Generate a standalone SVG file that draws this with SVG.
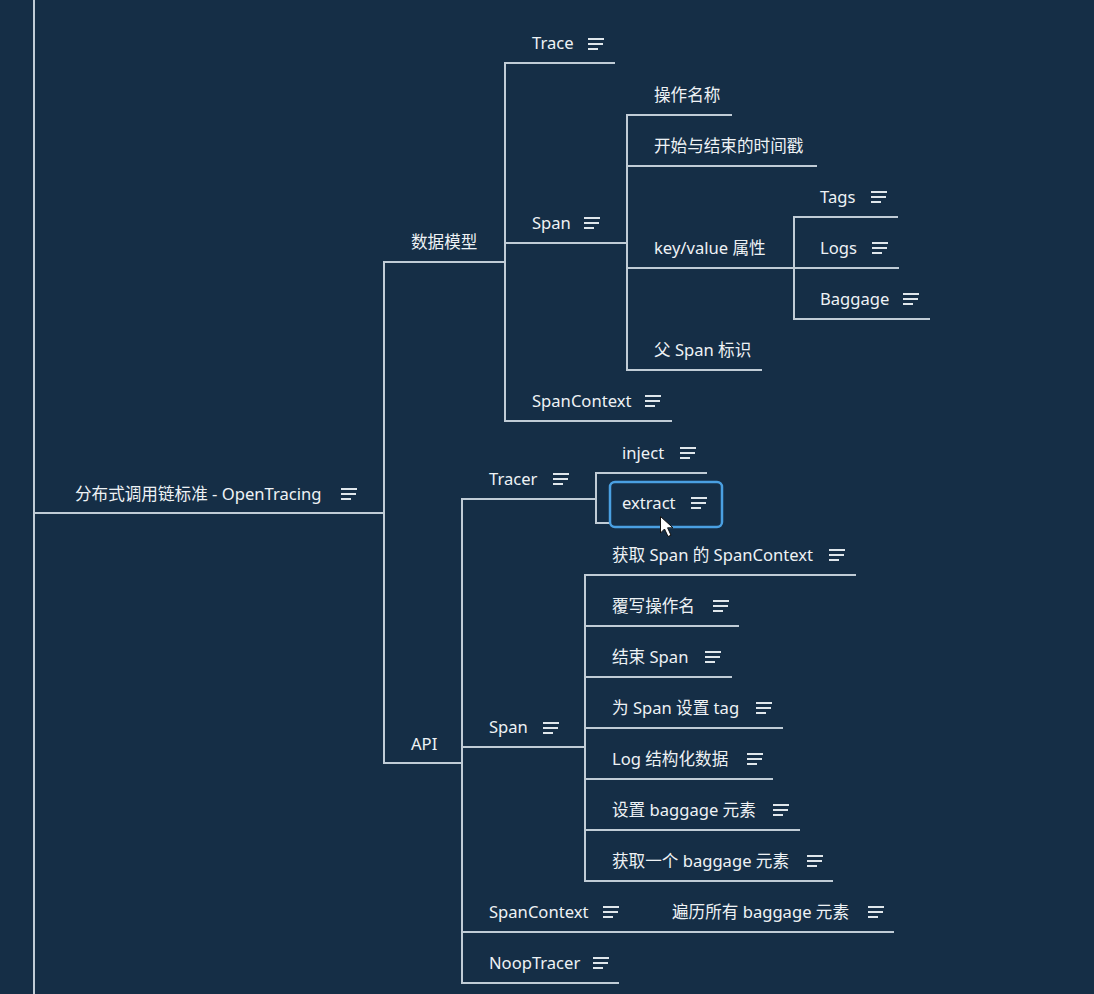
<svg xmlns="http://www.w3.org/2000/svg" width="1094" height="994" viewBox="0 0 1094 994">
<defs>
<style>
.bg{fill:#152e46}
.ln{fill:none;stroke:#c0ccd6;stroke-width:2}
.t{font-family:"Noto Sans","Noto Sans CJK SC",sans-serif;font-size:16.6px;fill:#eef2f5}
.ic{stroke:#dfe6eb;stroke-width:2;fill:none}
.sel{fill:#152e46;stroke:#4aa0e2;stroke-width:2.5}
</style>
<g id="note">
<line class="ic" x1="0" y1="-5" x2="16" y2="-5"/>
<line class="ic" x1="0" y1="0" x2="15" y2="0"/>
<line class="ic" x1="0" y1="5" x2="10" y2="5"/>
</g>
</defs>
<rect class="bg" x="0" y="0" width="1094" height="994"/>
<g id="connectors">
<line class="ln" x1="34" y1="0" x2="34" y2="994"/>
<line class="ln" x1="34" y1="513" x2="384" y2="513"/>
<line class="ln" x1="384" y1="262" x2="384" y2="763"/>
<line class="ln" x1="383" y1="262" x2="505" y2="262"/>
<line class="ln" x1="383" y1="763" x2="462" y2="763"/>
<line class="ln" x1="505" y1="62" x2="505" y2="422"/>
<line class="ln" x1="504" y1="63" x2="615" y2="63"/>
<line class="ln" x1="504" y1="243" x2="627" y2="243"/>
<line class="ln" x1="504" y1="421" x2="672" y2="421"/>
<line class="ln" x1="627" y1="114" x2="627" y2="371"/>
<line class="ln" x1="626" y1="115" x2="732" y2="115"/>
<line class="ln" x1="626" y1="166" x2="817" y2="166"/>
<line class="ln" x1="626" y1="268" x2="794" y2="268"/>
<line class="ln" x1="626" y1="370" x2="762" y2="370"/>
<line class="ln" x1="794" y1="216" x2="794" y2="320"/>
<line class="ln" x1="793" y1="217" x2="898" y2="217"/>
<line class="ln" x1="793" y1="268" x2="899" y2="268"/>
<line class="ln" x1="793" y1="319" x2="930" y2="319"/>
<line class="ln" x1="462" y1="498" x2="462" y2="984"/>
<line class="ln" x1="461" y1="499" x2="596" y2="499"/>
<line class="ln" x1="461" y1="747" x2="585" y2="747"/>
<line class="ln" x1="461" y1="932" x2="894" y2="932"/>
<line class="ln" x1="461" y1="983" x2="619" y2="983"/>
<line class="ln" x1="596" y1="472" x2="596" y2="524"/>
<line class="ln" x1="595" y1="473" x2="707" y2="473"/>
<line class="ln" x1="595" y1="523" x2="717" y2="523"/>
<line class="ln" x1="585" y1="574" x2="585" y2="882"/>
<line class="ln" x1="584" y1="575" x2="856" y2="575"/>
<line class="ln" x1="584" y1="626" x2="739" y2="626"/>
<line class="ln" x1="584" y1="677" x2="732" y2="677"/>
<line class="ln" x1="584" y1="728" x2="783" y2="728"/>
<line class="ln" x1="584" y1="779" x2="773" y2="779"/>
<line class="ln" x1="584" y1="830" x2="800" y2="830"/>
<line class="ln" x1="584" y1="881" x2="833" y2="881"/>
</g>
<g id="root"><text class="t" x="75" y="500">分布式调用链标准 - OpenTracing</text><use href="#note" x="341" y="494"/></g>
<g id="datamodel"><text class="t" x="411" y="248">数据模型</text></g>
<g id="api"><text class="t" x="411" y="750">API</text></g>
<g id="trace"><text class="t" x="532" y="49">Trace</text><use href="#note" x="588" y="44"/></g>
<g id="span-dm"><text class="t" x="532" y="229">Span</text><use href="#note" x="584" y="223"/></g>
<g id="spancontext-dm"><text class="t" x="532" y="407">SpanContext</text><use href="#note" x="645" y="401"/></g>
<g id="opname"><text class="t" x="654" y="101">操作名称</text></g>
<g id="timestamps"><text class="t" x="654" y="152">开始与结束的时间戳</text></g>
<g id="kv"><text class="t" x="654" y="254">key/value 属性</text></g>
<g id="parent"><text class="t" x="654" y="356">父 Span 标识</text></g>
<g id="tags"><text class="t" x="820" y="203">Tags</text><use href="#note" x="871" y="197"/></g>
<g id="logs"><text class="t" x="820" y="254">Logs</text><use href="#note" x="872" y="248"/></g>
<g id="baggage"><text class="t" x="820" y="305">Baggage</text><use href="#note" x="903" y="299"/></g>
<g id="tracer"><text class="t" x="489" y="485">Tracer</text><use href="#note" x="553" y="479"/></g>
<g id="inject"><text class="t" x="622" y="459">inject</text><use href="#note" x="680" y="453"/></g>
<g id="extract"><rect class="sel" x="610" y="482" width="112" height="45" rx="5"/><text class="t" x="622" y="509">extract</text><use href="#note" x="691" y="503"/></g>
<g id="span-api"><text class="t" x="489" y="733">Span</text><use href="#note" x="543" y="728"/></g>
<g id="spancontext-api"><text class="t" x="489" y="918">SpanContext</text><use href="#note" x="603" y="912"/></g>
<g id="nooptracer"><text class="t" x="489" y="969">NoopTracer</text><use href="#note" x="593" y="963"/></g>
<g id="getctx"><text class="t" x="612" y="561">获取 Span 的 SpanContext</text><use href="#note" x="829" y="555"/></g>
<g id="rename"><text class="t" x="612" y="612">覆写操作名</text><use href="#note" x="713" y="606"/></g>
<g id="finish"><text class="t" x="612" y="663">结束 Span</text><use href="#note" x="705" y="657"/></g>
<g id="settag"><text class="t" x="612" y="714">为 Span 设置 tag</text><use href="#note" x="756" y="708"/></g>
<g id="log"><text class="t" x="612" y="765">Log 结构化数据</text><use href="#note" x="747" y="759"/></g>
<g id="setbaggage"><text class="t" x="612" y="816">设置 baggage 元素</text><use href="#note" x="773" y="810"/></g>
<g id="getbaggage"><text class="t" x="612" y="867">获取一个 baggage 元素</text><use href="#note" x="807" y="861"/></g>
<g id="iterbaggage"><text class="t" x="672" y="918">遍历所有 baggage 元素</text><use href="#note" x="868" y="912"/></g>
<g id="cursor"><path d="M660.5 516.5 L660.5 533 L664.5 529 L668 536.5 L671 535.2 L667.6 527.8 L673 527.8 Z" fill="#ffffff" stroke="#111111" stroke-width="1"/></g>
</svg>
